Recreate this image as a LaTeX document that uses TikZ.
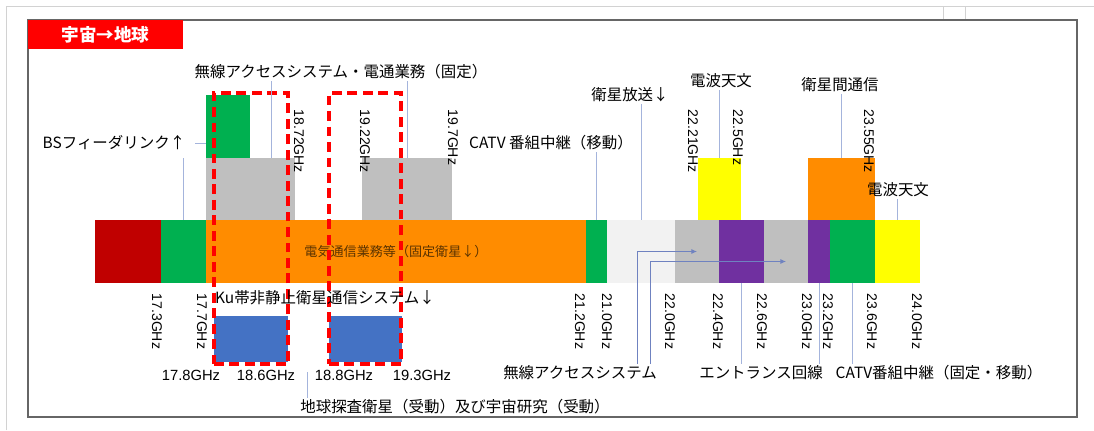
\documentclass[tikz,border=0pt]{standalone}
\usepackage{fontspec}
\setmainfont{Liberation Sans}
\newfontfamily\jp{Noto Sans CJK JP}
\usetikzlibrary{
    arrows.meta, % for the small arrow tips
    calc, % for the shifted arrow end
    fit % to turn two corner points into a rectangle node
}
\definecolor{bandred}{HTML}{C00000}
\definecolor{bandgreen}{HTML}{00B050}
\definecolor{bandorange}{HTML}{FF8C00}
\definecolor{bandlight}{HTML}{F2F2F2}
\definecolor{bandgray}{HTML}{BFBFBF}
\definecolor{bandpurple}{HTML}{7030A0}
\definecolor{bandyellow}{HTML}{FFFF00}
\definecolor{bandblue}{HTML}{4472C4}
\definecolor{bandtext}{HTML}{5A3300}
\definecolor{dashred}{HTML}{FF0000}
\definecolor{leadblue}{HTML}{A4B4DC}
\definecolor{arrowblue}{HTML}{6F82C0}

\begin{document}
\begin{tikzpicture}[
        x=0.025cm, y=-0.025cm, >={Latex[length=4pt,width=3.5pt]},
        band part/.style  = {inner sep=0pt, outer sep=0pt},
        lead line/.style  = {draw=leadblue, line width=0.6pt},
        lead arrow/.style = {draw=arrowblue, line width=0.6pt, ->},
        jp label/.style   = {font=\jp\fontsize{11}{13}\selectfont, inner sep=1pt},
        freq label/.style = {font=\fontsize{10}{12}\selectfont, rotate=-90, anchor=west, inner sep=1pt},
        ghz label/.style  = {font=\fontsize{10.5}{12}\selectfont, inner sep=1pt},
        red frame/.style  = {draw=dashred, line width=2.2pt, dash pattern=on 7pt off 4pt}
    ]
    \useasboundingbox (0,0) rectangle (1094,430);

    % page frame
        \draw [gray!35] (6,430) -- (6,6) -- (1094,6);
        \draw [gray!35] (943,6) rectangle (965,20);
        \draw [black!60, line width=1pt] (28,20) rectangle (1077,417);
        \node [band part, fill=red, text=white, font=\jp\bfseries\fontsize{12.5}{14}\selectfont,
               minimum width=3.875cm, minimum height=0.725cm, anchor=north west] (title) at (28,20) {宇宙→地球};

    % main band
        \foreach \a/\b/\c [count=\i] in {95/161/bandred, 161/206/bandgreen, 206/586/bandorange,
                586/607/bandgreen, 607/675/bandlight, 675/719/bandgray, 719/764/bandpurple,
                764/808/bandgray, 808/830/bandpurple, 830/875/bandgreen, 875/920/bandyellow}
            \node [band part, fill=\c, fit={(\a,220) (\b,283)}] (s\i) {};
        \node [font=\jp\fontsize{9.3}{11}\selectfont, text=bandtext] (fss) at (396,252) {電気通信業務等（固定衛星↓）};

    % blocks above and below
        \node [band part, fill=bandgreen,  fit={(206,95) (250,158)}]  (bsf) {};
        \node [band part, fill=bandgray,   fit={(206,158) (295,220)}] (gr1) {};
        \node [band part, fill=bandgray,   fit={(362,158) (452,220)}] (gr2) {};
        \node [band part, fill=bandyellow, fit={(698,158) (741,220)}] (ra1) {};
        \node [band part, fill=bandorange, fit={(808,158) (875,220)}] (isl) {};
        \node [band part, fill=bandblue,   fit={(214,316) (288,362)}] (ee1) {};
        \node [band part, fill=bandblue,   fit={(329,316) (402,362)}] (ee2) {};

        \node [band part, red frame, fit={(214,93) (288,364)}] (rf1) {};
        \node [band part, red frame, fit={(329,93) (401,364)}] (rf2) {};

    % labels
        \node [jp label] (bsl)   at (114,143) {BSフィーダリンク↑};
        \node [jp label] (fwa)   at (341,72)  {無線アクセスシステム・電通業務（固定）};
        \node [jp label] (catvm) at (551,143) {CATV 番組中継（移動）};
        \node [jp label] (bcs)   at (630,95)  {衛星放送↓};
        \node [jp label] (ra1l)  at (721,81)  {電波天文};
        \node [jp label] (isll)  at (840,85)  {衛星間通信};
        \node [jp label] (ra2l)  at (898,190) {電波天文};
        \node [jp label] (ku)    at (325,298) {Ku帯非静止衛星通信システム↓};
        \node [jp label] (ees)   at (455,407) {地球探査衛星（受動）及び宇宙研究（受動）};
        \node [jp label] (fwb)   at (580,373) {無線アクセスシステム};
        \node [jp label] (ent)   at (761,373) {エントランス回線};
        \node [jp label] (catvf) at (939,373) {CATV番組中継（固定・移動）};

    % leader lines
        \coordinate (fwa1) at (271,158);
        \coordinate (ees1) at (307,372);
        \coordinate (fwb1) at (637,0);
        \coordinate (fwb2) at (650,0);
        \draw [lead line] ([xshift=6pt]bsl.east) -- (bsf.west |- bsl.east);
        \draw [lead line] (s2.north |- gr1.north) -- (s2.north);
        \draw [lead line] (fwa.south -| fwa1) -- (fwa1);
        \draw [lead line] (fwa.south -| gr2.north) -- (gr2.north);
        \draw [lead line] (catvm.south -| s4.north) -- (s4.north);
        \draw [lead line] (bcs.south -| s5.north) -- (s5.north);
        \draw [lead line] (ra1l.south -| ra1.north) -- (ra1.north);
        \draw [lead line] (isll.south -| isl.north) -- (isl.north);
        \draw [lead line] (ra2l.south -| s11.north) -- (s11.north);
        \draw [lead line] (s7.south) -- (s7.south |- ent.north);
        \draw [lead line] (s9.south) -- (s9.south |- ent.north);
        \draw [lead line] (s10.south) -- (s10.south |- catvf.north);
        \draw [lead line] (ees1) -- (ees1 |- ees.north);
        \draw [lead arrow] (fwb.north -| fwb1) |- (s6.center);
        \draw [lead arrow] (fwb.north -| fwb2) |- ($(s8.center)+(0,10)$);

    % frequencies
        \foreach \x/\f [count=\i] in {299/18.72, 365/19.22, 453/19.7, 693/22.21, 738/22.5, 869/23.55}
            \node [freq label] (fu\i) at (\x,108) {\f GHz};
        \foreach \x/\f [count=\i] in {157/17.3, 202/17.7, 580/21.2, 607/21.0, 670/22.0, 718/22.4,
                762/22.6, 807/23.0, 828/23.2, 872/23.6, 917/24.0}
            \node [freq label] (fd\i) at (\x,292) {\f GHz};
        \foreach \x/\f [count=\i] in {191/17.8, 266/18.6, 344/18.8, 422/19.3}
            \node [ghz label] (fh\i) at (\x,375) {\f GHz};

\end{tikzpicture}
\end{document}
